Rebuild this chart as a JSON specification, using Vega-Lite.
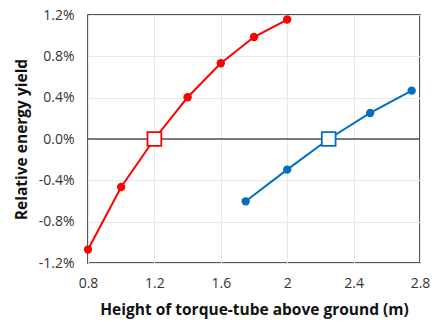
{
  "$schema": "https://vega.github.io/schema/vega-lite/v6.json",
  "width": 332,
  "height": 248,
  "autosize": {"type": "none"},
  "padding": {"left": 88, "top": 15, "right": 12, "bottom": 60},
  "background": "white",
  "config": {
    "font": "Open Sans",
    "view": {"stroke": "#222222", "strokeWidth": 1.5},
    "axis": {"labelFont": "Open Sans", "titleFont": "Open Sans", "labelColor": "#333333", "titleColor": "#111111", "domain": false, "ticks": false, "gridColor": "#e8e8e8", "gridWidth": 1, "labelFlush": false}
  },
  "data": {
    "values": [
      {"series": "A", "height": 0.8, "yield": -0.0107, "kind": "point"},
      {"series": "A", "height": 1.0, "yield": -0.00465, "kind": "point"},
      {"series": "A", "height": 1.2, "yield": 0.0, "kind": "ref"},
      {"series": "A", "height": 1.4, "yield": 0.00404, "kind": "point"},
      {"series": "A", "height": 1.6, "yield": 0.00733, "kind": "point"},
      {"series": "A", "height": 1.8, "yield": 0.00987, "kind": "point"},
      {"series": "A", "height": 2.0, "yield": 0.01156, "kind": "point"},
      {"series": "B", "height": 1.75, "yield": -0.00603, "kind": "point"},
      {"series": "B", "height": 2.0, "yield": -0.00296, "kind": "point"},
      {"series": "B", "height": 2.25, "yield": 0.0, "kind": "ref"},
      {"series": "B", "height": 2.5, "yield": 0.00252, "kind": "point"},
      {"series": "B", "height": 2.75, "yield": 0.00468, "kind": "point"}
    ]
  },
  "encoding": {
    "x": {
      "field": "height", "type": "quantitative",
      "scale": {"domain": [0.8, 2.8], "nice": false, "zero": false},
      "axis": {"values": [0.8, 1.2, 1.6, 2.0, 2.4, 2.8], "labelExpr": "datum.value == 2 ? '2' : format(datum.value, '.1f')", "title": "Height of torque-tube above ground (m)", "labelFontSize": 14, "titleFontSize": 15.5, "titleFontWeight": "bold", "labelPadding": 13, "titlePadding": 12}
    },
    "y": {
      "field": "yield", "type": "quantitative",
      "scale": {"domain": [-0.012, 0.012], "nice": false},
      "axis": {"values": [-0.012, -0.008, -0.004, 0, 0.004, 0.008, 0.012], "labelExpr": "replace(format(datum.value, '.1%'), '\u2212', '-')", "title": "Relative energy yield", "labelFontSize": 14, "titleFontSize": 15.5, "titleFontWeight": "bold", "labelPadding": 14, "titlePadding": 9}
    },
    "color": {
      "field": "series", "type": "nominal",
      "scale": {"domain": ["A", "B"], "range": ["#FF0000", "#0070C0"]},
      "legend": null
    }
  },
  "layer": [
    {
      "mark": {"type": "rule", "color": "black", "strokeWidth": 1.2},
      "data": {"values": [{"z": 0}]},
      "encoding": {"y": {"field": "z", "type": "quantitative"}, "x": null, "color": null}
    },
    {
      "mark": {"type": "line", "strokeWidth": 2},
      "encoding": {"detail": {"field": "series"}}
    },
    {
      "transform": [{"filter": "datum.kind == 'point'"}],
      "mark": {"type": "point", "shape": "circle", "filled": true, "size": 70, "opacity": 1}
    },
    {
      "transform": [{"filter": "datum.kind == 'ref'"}],
      "mark": {"type": "point", "shape": "square", "filled": true, "fill": "white", "size": 190, "strokeWidth": 1.8, "opacity": 1},
      "encoding": {"stroke": {"field": "series", "type": "nominal", "scale": {"domain": ["A", "B"], "range": ["#FF0000", "#0070C0"]}, "legend": null}, "color": null}
    }
  ]
}
